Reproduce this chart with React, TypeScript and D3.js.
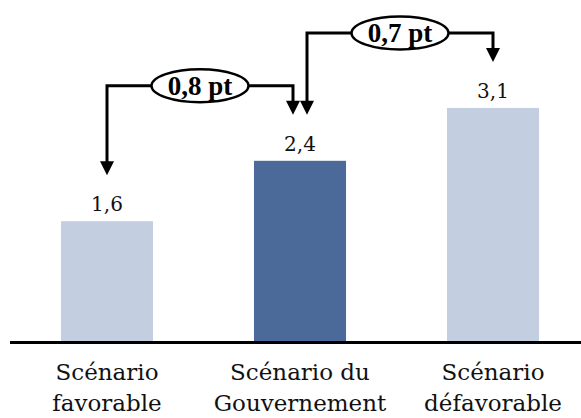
import React from "react";
import * as d3 from "d3";

const categories = ["Scénario favorable", "Scénario du Gouvernement", "Scénario défavorable"];
const labelLines = [["Scénario", "favorable"], ["Scénario du", "Gouvernement"], ["Scénario", "défavorable"]];
const values = [1.6, 2.4, 3.1];
const valueLabels = ["1,6", "2,4", "3,1"];
const highlighted = [false, true, false];
const diffFrom = [0, 1];
const diffTo = [1, 2];
const diffLabels = ["0,8 pt", "0,7 pt"];

const W = 581;
const H = 418;
const baseY = 342;
const LIGHT = "#C3CEE1";
const DARK = "#4B6A99";
const SERIF = "'DejaVu Serif', serif";

export default function App() {
  const x = d3.scaleBand<string>().domain(categories).range([10.5, 589.5]).paddingInner(0.523).paddingOuter(0.2615);
  const y = d3.scaleLinear().domain([0, 4]).range([baseY, baseY - 302]);
  const cx = (i: number) => (x(categories[i]) as number) + x.bandwidth() / 2;
  const ah = 14;
  const aw = 14;

  const arrow = (ax: number, tip: number) =>
    `M${ax - aw / 2},${tip - ah} L${ax + aw / 2},${tip - ah} L${ax},${tip} Z`;

  return (
    <svg width={W} height={H} style={{ position: "absolute", left: 0, top: 0, background: "#fff" }}>
      {categories.map((c, i) => (
        <rect key={c} x={x(c)} y={y(values[i])} width={x.bandwidth()} height={baseY - y(values[i])} fill={highlighted[i] ? DARK : LIGHT} />
      ))}
      <line x1={10} x2={W} y1={baseY + 0.5} y2={baseY + 0.5} stroke="#000" strokeWidth={3} />
      {categories.map((c, i) => (
        <text key={"v" + c} x={cx(i)} y={y(values[i]) - 10} textAnchor="middle" fontFamily={SERIF} fontSize={20} fill="#111">
          {valueLabels[i]}
        </text>
      ))}
      {categories.map((c, i) => (
        <text key={"c" + c} x={cx(i)} textAnchor="middle" fontFamily={SERIF} fontSize={23} fill="#111">
          <tspan x={cx(i)} y={380}>{labelLines[i][0]}</tspan>
          <tspan x={cx(i)} y={411}>{labelLines[i][1]}</tspan>
        </text>
      ))}
      {diffFrom.map((f, k) => {
        const t = diffTo[k];
        const x1 = cx(f) + (k === 0 ? 0 : 7);
        const x2 = cx(t) + (k === 0 ? -7 : 0);
        const level = y(Math.max(values[f], values[t])) - 75;
        const tip1 = y(values[f]) - 46;
        const tip2 = y(values[t]) - 46;
        const mx = (x1 + x2) / 2;
        return (
          <g key={"d" + k}>
            <path d={`M${x1},${tip1 - ah + 1} L${x1},${level} L${x2},${level} L${x2},${tip2 - ah + 1}`} fill="none" stroke="#000" strokeWidth={3} />
            <path d={arrow(x1, tip1)} fill="#000" />
            <path d={arrow(x2, tip2)} fill="#000" />
            <ellipse cx={mx} cy={level} rx={48.5} ry={16.5} fill="#fff" stroke="#000" strokeWidth={2.4} />
            <text x={mx} y={level + 9} textAnchor="middle" fontFamily="'Liberation Serif', serif" fontWeight="bold" fontSize={27} fill="#000">
              {diffLabels[k]}
            </text>
          </g>
        );
      })}
    </svg>
  );
}
